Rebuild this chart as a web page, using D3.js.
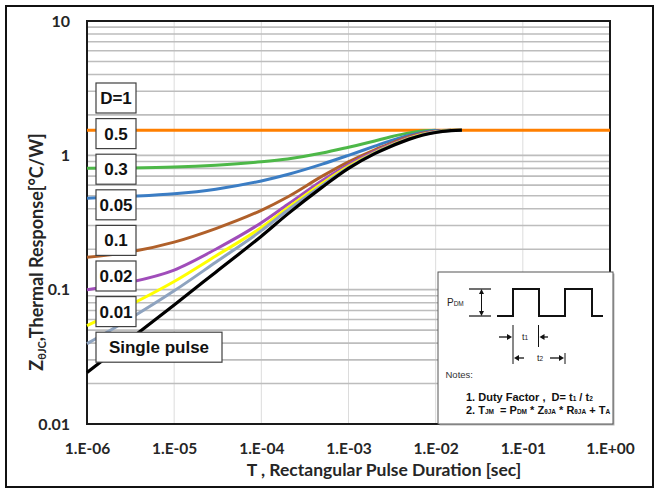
<!DOCTYPE html>
<html>
<head>
<meta charset="utf-8">
<script src="https://cdn.jsdelivr.net/npm/d3@7/dist/d3.min.js"></script>
<style>
  html, body { margin: 0; padding: 0; background: #fff; }
  svg { display: block; }
</style>
</head>
<body>
<script>
// Pulse widths (s) shared by every curve
const pulseWidths = [1e-6, 3e-6, 1e-5, 3e-5, 1e-4, 2e-4, 5e-4, 1e-3, 2e-3, 3e-3, 5e-3, 7e-3, 1e-2, 1.5e-2, 2e-2, 1];

// Normalised transient thermal impedance, one array per duty factor (null = merged into steady state)
const zDuty1   = [1.54, 1.54, 1.54, 1.54, 1.54, 1.54, 1.54, 1.54, 1.54, 1.54, 1.54, 1.54, 1.54, 1.54, 1.54, 1.54];
const zDuty05  = [0.80, 0.805, 0.818, 0.845, 0.895, 0.94, 1.04, 1.15, 1.28, 1.37, 1.47, 1.52, 1.54, null, null, null];
const zDuty03  = [0.48, 0.495, 0.518, 0.56, 0.645, 0.72, 0.86, 1.00, 1.17, 1.28, 1.41, 1.48, 1.53, 1.54, null, null];
const zDuty01  = [0.174, 0.19, 0.226, 0.285, 0.39, 0.49, 0.70, 0.895, 1.10, 1.22, 1.38, 1.46, 1.51, 1.54, null, null];
const zDuty005 = [0.10, 0.113, 0.14, 0.20, 0.315, 0.43, 0.65, 0.855, 1.07, 1.20, 1.36, 1.44, 1.50, 1.535, 1.54, null];
const zDuty002 = [0.054, 0.076, 0.115, 0.178, 0.29, 0.405, 0.62, 0.83, 1.05, 1.18, 1.34, 1.43, 1.495, 1.535, 1.54, null];
const zDuty001 = [0.0396, 0.06, 0.098, 0.16, 0.275, 0.39, 0.60, 0.81, 1.04, 1.17, 1.33, 1.42, 1.49, 1.53, 1.54, null];
const zSingle  = [0.0242, 0.042, 0.077, 0.135, 0.25, 0.365, 0.58, 0.80, 1.03, 1.16, 1.32, 1.41, 1.48, 1.525, 1.54, null];

const seriesValues = [zDuty1, zDuty05, zDuty03, zDuty01, zDuty005, zDuty002, zDuty001, zSingle];
const seriesColors = ["#ff7f00", "#4db848", "#3b7dc4", "#b0602a", "#a04dba", "#ffff00", "#8ea3bf", "#000000"];

// Curve tags, top to bottom
const curveLabels = ["D=1", "0.5", "0.3", "0.05", "0.1", "0.02", "0.01", "Single pulse"];

// Axis ticks
const xTickValues = [1e-6, 1e-5, 1e-4, 1e-3, 1e-2, 1e-1, 1];
const xTickLabels = ["1.E-06", "1.E-05", "1.E-04", "1.E-03", "1.E-02", "1.E-01", "1.E+00"];
const yTickValues = [0.01, 0.1, 1, 10];
const yTickLabels = ["0.01", "0.1", "1", "10"];

const W = 657, H = 490;
const plot = { left: 87, right: 610, top: 21, bottom: 424 };

const svg = d3.select("body").append("svg").attr("width", W).attr("height", H);

// outer frame
svg.append("rect").attr("x", 6).attr("y", 6).attr("width", 647).attr("height", 481)
  .attr("fill", "#fff").attr("stroke", "#111").attr("stroke-width", 2);

const x = d3.scaleLog().domain([1e-6, 1]).range([plot.left, plot.right]);
const y = d3.scaleLog().domain([0.01, 10]).range([plot.bottom, plot.top]);

// vertical grid at each decade
svg.append("g").selectAll("line").data(xTickValues.slice(1, -1)).join("line")
  .attr("x1", d => x(d)).attr("x2", d => x(d))
  .attr("y1", plot.top).attr("y2", plot.bottom)
  .attr("stroke", "#dcdcdc").attr("stroke-width", 1);

// horizontal grid with minor steps
const yGrid = [];
[0.01, 0.1, 1].forEach(dec => { for (let m = 1; m <= 9; m++) yGrid.push(dec * m); });
svg.append("g").selectAll("line").data(yGrid.slice(1)).join("line")
  .attr("x1", plot.left).attr("x2", plot.right)
  .attr("y1", d => y(d)).attr("y2", d => y(d))
  .attr("stroke", "#bdbdbd").attr("stroke-width", 1.6);

// plot frame
svg.append("rect").attr("x", plot.left).attr("y", plot.top)
  .attr("width", plot.right - plot.left).attr("height", plot.bottom - plot.top)
  .attr("fill", "none").attr("stroke", "#1a1a1a").attr("stroke-width", 2);

// curves
const line = d3.line()
  .defined(d => d.v != null)
  .x(d => x(d.t)).y(d => y(d.v))
  .curve(d3.curveMonotoneX);

const curves = svg.append("g");
seriesValues.forEach((vals, i) => {
  const pts = pulseWidths.map((t, k) => ({ t, v: vals[k] }));
  curves.append("path").datum(pts)
    .attr("d", line)
    .attr("fill", "none")
    .attr("stroke", seriesColors[i])
    .attr("stroke-width", i === seriesValues.length - 1 ? 3.2 : 3)
    .attr("stroke-linejoin", "round");
});

// axes
const tickFont = "Lato, 'Open Sans', sans-serif";
const xAxis = svg.append("g").attr("transform", `translate(0,${plot.bottom})`)
  .call(d3.axisBottom(x).tickValues(xTickValues)
    .tickFormat((d, i) => xTickLabels[i]).tickSize(0).tickPadding(19));
xAxis.select(".domain").remove();
xAxis.selectAll("text").attr("font-family", tickFont).attr("font-weight", 700)
  .attr("font-size", 15.5).attr("fill", "#262626");

const yAxis = svg.append("g").attr("transform", `translate(${plot.left},0)`)
  .call(d3.axisLeft(y).tickValues(yTickValues)
    .tickFormat((d, i) => yTickLabels[i]).tickSize(0).tickPadding(17));
yAxis.select(".domain").remove();
yAxis.selectAll("text").attr("font-family", tickFont).attr("font-weight", 700)
  .attr("font-size", 16).attr("fill", "#262626");

// axis titles
svg.append("text")
  .attr("x", 384).attr("y", 476)
  .attr("text-anchor", "middle")
  .attr("font-family", tickFont).attr("font-weight", 700).attr("font-size", 17.5)
  .attr("fill", "#262626")
  .text("T , Rectangular Pulse Duration [sec]");

const yTitle = svg.append("text")
  .attr("transform", "translate(43,252) rotate(-90)")
  .attr("text-anchor", "middle")
  .attr("font-family", tickFont).attr("font-weight", 700).attr("font-size", 18)
  .attr("fill", "#262626");
yTitle.append("tspan").text("Z");
yTitle.append("tspan").attr("font-size", 11).attr("dy", 3).text("θJC");
yTitle.append("tspan").attr("dy", -3).text(",Thermal Response[°C/W]");

// curve tags
const labelFont = "'Liberation Sans', Arial, sans-serif";
const tags = svg.append("g");
curveLabels.forEach((lab, i) => {
  const top = 83 + i * 35.6;
  const w = lab.length > 5 ? 126 : 40;
  tags.append("rect").attr("x", 96).attr("y", top).attr("width", w).attr("height", 30)
    .attr("fill", "#fff").attr("stroke", "#404040").attr("stroke-width", 1.2);
  tags.append("text").attr("x", 96 + w / 2).attr("y", top + 21)
    .attr("text-anchor", "middle")
    .attr("font-family", labelFont).attr("font-weight", 700).attr("font-size", 17)
    .attr("fill", "#111").text(lab);
});

// inset: pulse train definition and notes
const inset = svg.append("g");
inset.append("rect").attr("x", 439.5).attr("y", 273.5).attr("width", 175).attr("height", 152)
  .attr("fill", "#b5b5b5");
inset.append("rect").attr("x", 438).attr("y", 272).attr("width", 175).attr("height", 152)
  .attr("fill", "#fff").attr("stroke", "#555").attr("stroke-width", 1);

const ink = "#111";
// amplitude marker
inset.append("line").attr("x1", 469).attr("x2", 491).attr("y1", 289).attr("y2", 289).attr("stroke", ink).attr("stroke-width", 1.2);
inset.append("line").attr("x1", 469).attr("x2", 491).attr("y1", 316).attr("y2", 316).attr("stroke", ink).attr("stroke-width", 1.2);
inset.append("line").attr("x1", 481.5).attr("x2", 481.5).attr("y1", 291).attr("y2", 314).attr("stroke", ink).attr("stroke-width", 1);
inset.append("path").attr("d", "M481.5,289 l-2.5,5 h5 z M481.5,316 l-2.5,-5 h5 z").attr("fill", ink);

// pulse train
inset.append("path")
  .attr("d", "M497,316 H513 V289 H539 V316 H565 V289 H592 V316 H603")
  .attr("fill", "none").attr("stroke", ink).attr("stroke-width", 2);

// t1 / t2 markers
inset.append("line").attr("x1", 513).attr("x2", 513).attr("y1", 325).attr("y2", 364).attr("stroke", ink).attr("stroke-width", 1);
inset.append("line").attr("x1", 538.5).attr("x2", 538.5).attr("y1", 325).attr("y2", 347).attr("stroke", ink).attr("stroke-width", 1);
inset.append("line").attr("x1", 565).attr("x2", 565).attr("y1", 353).attr("y2", 364).attr("stroke", ink).attr("stroke-width", 1);
const arrows = [
  [499, 509, 337], [548, 542.5, 337], [524, 517, 358], [550, 561, 358]
];
arrows.forEach(([x0, x1, yy]) => {
  const dir = Math.sign(x1 - x0);
  inset.append("line").attr("x1", x0).attr("x2", x1).attr("y1", yy).attr("y2", yy).attr("stroke", ink).attr("stroke-width", 1.3);
  inset.append("path").attr("d", `M${x1 + dir * 3},${yy} l${-dir * 5},-3 v6 z`).attr("fill", ink);
});

const small = (sel, parts) => {
  parts.forEach(([txt, sub]) => {
    sel.append("tspan").attr("font-size", sub ? 6.5 : null).text(txt);
  });
  return sel;
};

small(inset.append("text").attr("x", 447).attr("y", 306)
  .attr("font-family", labelFont).attr("font-size", 10).attr("fill", "#222"),
  [["P", false], ["DM", true]]);
small(inset.append("text").attr("x", 522).attr("y", 340)
  .attr("font-family", labelFont).attr("font-size", 9).attr("fill", "#222"),
  [["t", false], ["1", true]]);
small(inset.append("text").attr("x", 537).attr("y", 361)
  .attr("font-family", labelFont).attr("font-size", 9).attr("fill", "#222"),
  [["t", false], ["2", true]]);

inset.append("text").attr("x", 445.5).attr("y", 378)
  .attr("font-family", labelFont).attr("font-size", 9.5).attr("fill", "#333")
  .text("Notes:");

small(inset.append("text").attr("x", 466).attr("y", 401)
  .attr("font-family", labelFont).attr("font-weight", 700).attr("font-size", 11).attr("fill", "#111")
  .attr("xml:space", "preserve"),
  [["1. Duty Factor ,  D= t", false], ["1", true], [" / t", false], ["2", true]]);
small(inset.append("text").attr("x", 466).attr("y", 414)
  .attr("font-family", labelFont).attr("font-weight", 700).attr("font-size", 11).attr("fill", "#111")
  .attr("xml:space", "preserve"),
  [["2. T", false], ["JM", true], ["  = P", false], ["DM", true], [" * Z", false], ["θJA", true],
   [" * R", false], ["θJA", true], [" + T", false], ["A", true]]);
</script>
</body>
</html>
